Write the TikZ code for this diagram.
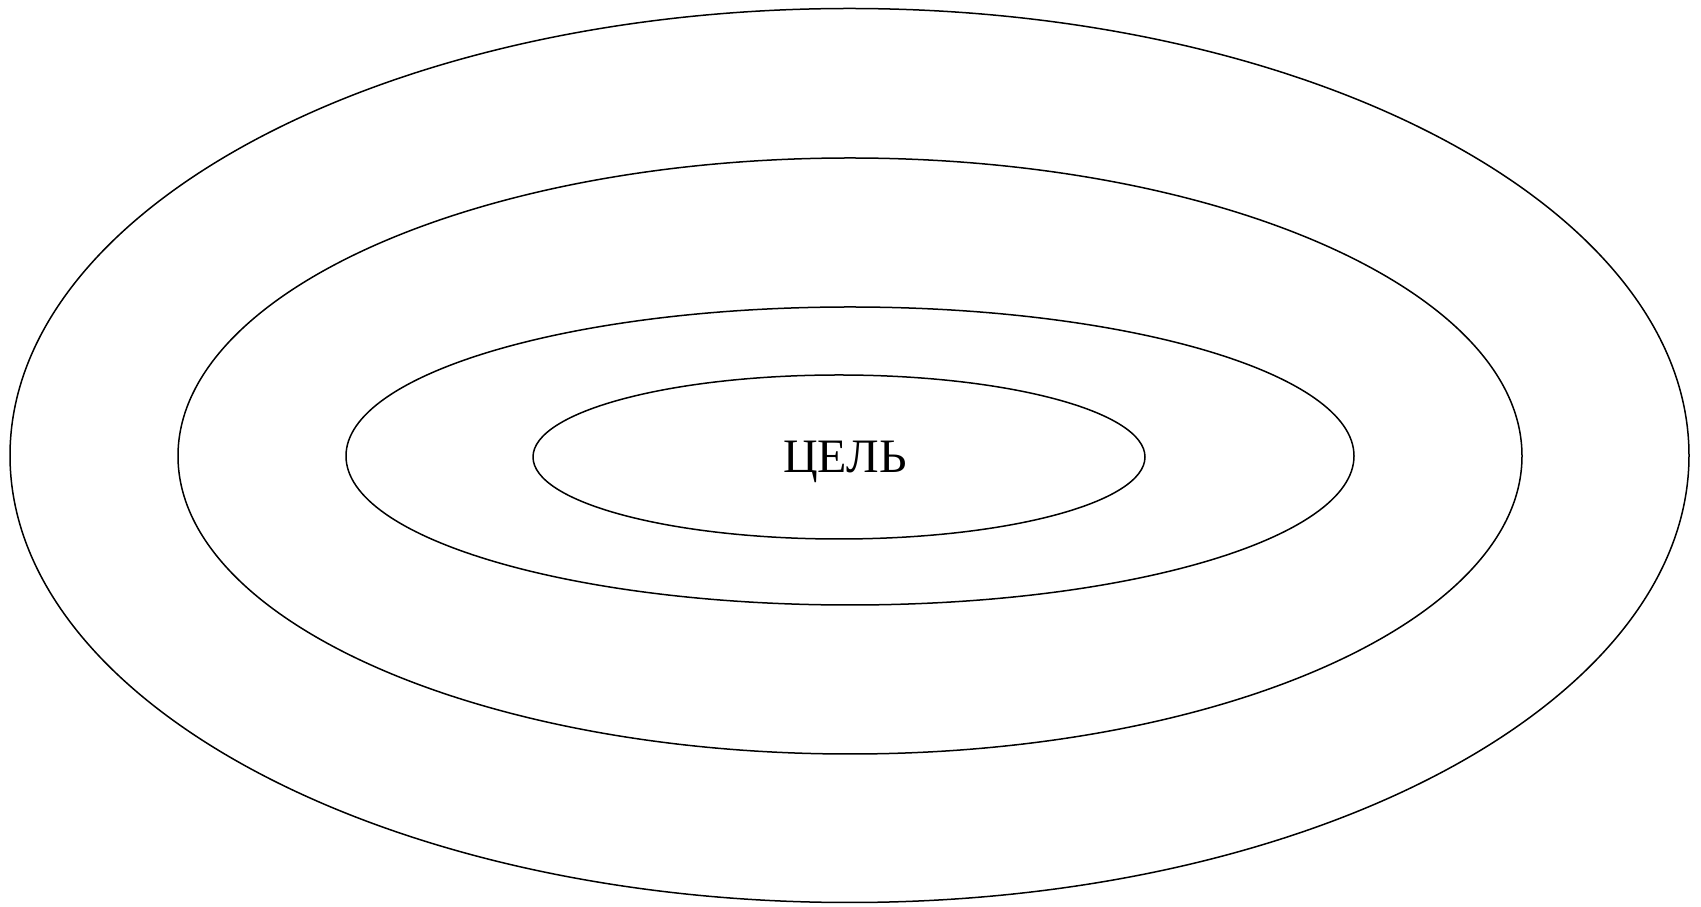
\documentclass[tikz,border=0pt]{standalone}
\usepackage{fontspec}
\setmainfont{Liberation Serif}
\usetikzlibrary{positioning}
\tikzset{ring/.style={draw=black, line width=1.5pt}}

\begin{document}
\begin{tikzpicture}[x=1pt, y=1pt]
  \useasboundingbox (0,0) rectangle (1701,907);
  % nested levels around the goal
  \foreach \cx/\cy/\rx/\ry in {849.5/451.5/839.5/447, 850/451/672/298, 850/451/504/149, 839/450/306/82}
    \draw[ring] (\cx,\cy) ellipse [x radius=\rx, y radius=\ry];
  \node[anchor=base, font=\fontsize{48}{56}\selectfont, inner sep=0pt] (goal) at (845,434) {ЦЕЛЬ};
\end{tikzpicture}
\end{document}
